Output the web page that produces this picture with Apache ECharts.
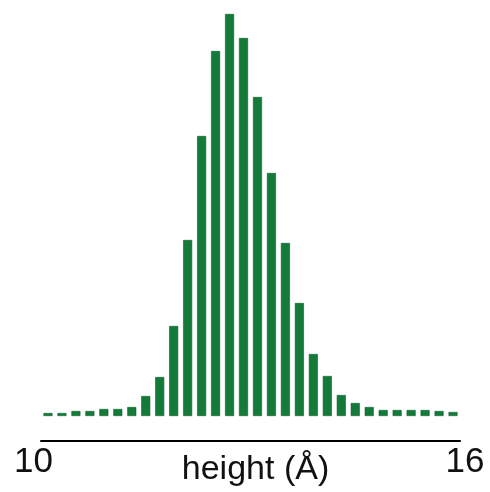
<!DOCTYPE html>
<html>
<head>
<meta charset="utf-8">
<style>html,body{margin:0;padding:0;background:#fff;}#c{width:490px;height:492px;}</style>
<script src="https://cdn.jsdelivr.net/npm/echarts@6/dist/echarts.min.js"></script>
</head>
<body>
<div id="c"></div>
<script>
// 30 histogram bins between 10 and 16 Å (relative counts)
const bins = ['1','2','3','4','5','6','7','8','9','10','11','12','13','14','15','16','17','18','19','20','21','22','23','24','25','26','27','28','29','30'];
const counts = [3, 3, 5, 5, 7, 7, 9, 20, 39, 90, 176, 280, 365, 402, 378, 319, 243, 173, 113, 62, 40, 21, 13, 9, 6, 6, 6, 6, 5, 4];
const tickValues = [10, 16];
const axisName = 'height (Å)';

const chart = echarts.init(document.getElementById('c'), null, {renderer: 'canvas'});
chart.setOption({
  animation: false,
  backgroundColor: '#ffffff',
  grid: [
    {left: 41, right: 30, top: 14, bottom: 51, containLabel: false, outerBoundsMode: 'none'},
    {left: 33.5, right: 25, top: 14, bottom: 51, containLabel: false, outerBoundsMode: 'none'}
  ],
  xAxis: [
    {
      type: 'category', gridIndex: 0, data: bins,
      axisLine: {show: true, onZero: false, lineStyle: {color: '#000', width: 2}},
      axisTick: {show: false}, axisLabel: {show: false}, splitLine: {show: false},
      name: axisName, nameLocation: 'middle', nameGap: 12,
      nameTextStyle: {fontFamily: 'Liberation Sans, Arial, sans-serif', fontSize: 34, color: '#111', padding: [0, 0, 0, 10], verticalAlign: 'top'}
    },
    {
      type: 'value', gridIndex: 1, min: 10, max: 16, interval: 6,
      axisLine: {show: false}, axisTick: {show: false}, splitLine: {show: false},
      axisLabel: {
        show: true, margin: 4, color: '#111', fontSize: 35,
        fontFamily: 'Liberation Sans, Arial, sans-serif',
        customValues: tickValues
      }
    }
  ],
  yAxis: [
    {type: 'value', gridIndex: 0, min: -25, max: 402, show: false},
    {type: 'value', gridIndex: 1, min: 0, max: 1, show: false}
  ],
  series: [{
    type: 'bar', xAxisIndex: 0, yAxisIndex: 0, data: counts,
    barWidth: 9,
    itemStyle: {color: '#137a3a', borderColor: '#0c5f2a', borderWidth: 0.6}
  }]
});
</script>
</body>
</html>
